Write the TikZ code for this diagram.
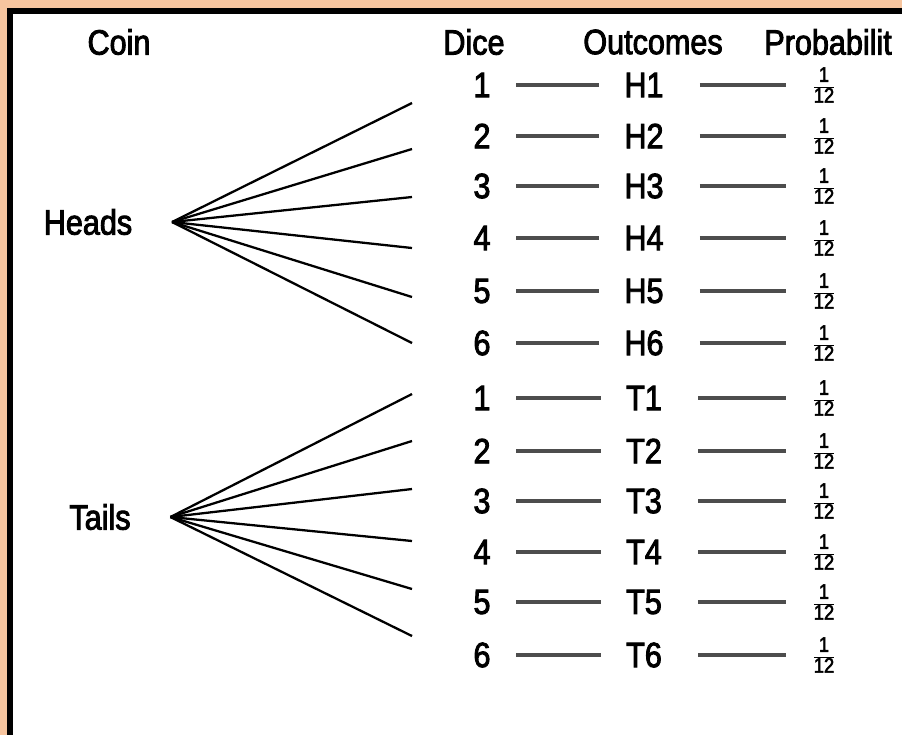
\documentclass[tikz,border=0pt]{standalone}
\usepackage{fontspec}
\setmainfont{Liberation Sans}[FakeStretch=0.87, FakeBold=2.5]

\definecolor{framepeach}{HTML}{F7C59F}
\definecolor{linkgray}{HTML}{4D4D4D}

\tikzset{
    lbl/.style={font=\fontsize{20}{22}\selectfont, inner sep=0pt},
    prob/.style={font=\fontsize{12}{13}\selectfont, inner sep=0pt},
    branch/.style={black, line width=1.3pt},
    link/.style={linkgray, line width=2pt},
}
\newcommand{\twelfth}{$\frac{\raisebox{1.2pt}{1}}{\raisebox{-1.2pt}{12}}$}

\begin{document}
\begin{tikzpicture}[x=0.02cm, y=-0.02cm]
    % Frame
    \useasboundingbox (0,0) rectangle (902,735);
    \fill[framepeach] (0,0) rectangle (902,735);
    \fill[black] (7,8) rectangle (902,735);
    \fill[white] (13,14) rectangle (902,735);

    % Column headers
    \node[lbl] (coin) at (119,42) {Coin};
    \node[lbl] (dice) at (474,42) {Dice};
    \node[lbl] (outc) at (653,42) {Outcomes};
    \node[lbl, anchor=west] (prob) at (764,42) {Probabilit};

    % Coin sides
    \node[lbl] (heads) at (88,222) {Heads};
    \node[lbl] (tails) at (100,517) {Tails};
    \coordinate (hroot) at ([xshift=0.79cm]heads.east);
    \coordinate (troot) at ([xshift=0.79cm]tails.east);

    % Branches to the dice
    \foreach \y [count=\i] in {103,149,197,248,297,343} {
        \coordinate (hend\i) at (412,\y);
        \draw[branch] (hroot) -- (hend\i);
    }
    \foreach \y [count=\i] in {394,441,489,541,589,636} {
        \coordinate (tend\i) at (412,\y);
        \draw[branch] (troot) -- (tend\i);
    }

    % Dice, outcomes and probabilities
    \foreach \y/\n/\o in {85/1/H1, 136/2/H2, 186/3/H3, 238/4/H4, 291/5/H5, 343/6/H6,
                          398/1/T1, 451/2/T2, 501/3/T3, 552/4/T4, 602/5/T5, 655/6/T6} {
        \node[lbl] (d\o) at (482,\y) {\n};
        \node[lbl] (o\o) at (644,\y) {\o};
        \node[prob] (p\o) at (824,\y) {\twelfth};
        \draw[link, shorten <=0.51cm, shorten >=0.5cm] (d\o) -- (o\o);
        \draw[link, shorten <=0.72cm, shorten >=0.5cm] (o\o) -- (p\o);
    }
\end{tikzpicture}
\end{document}
